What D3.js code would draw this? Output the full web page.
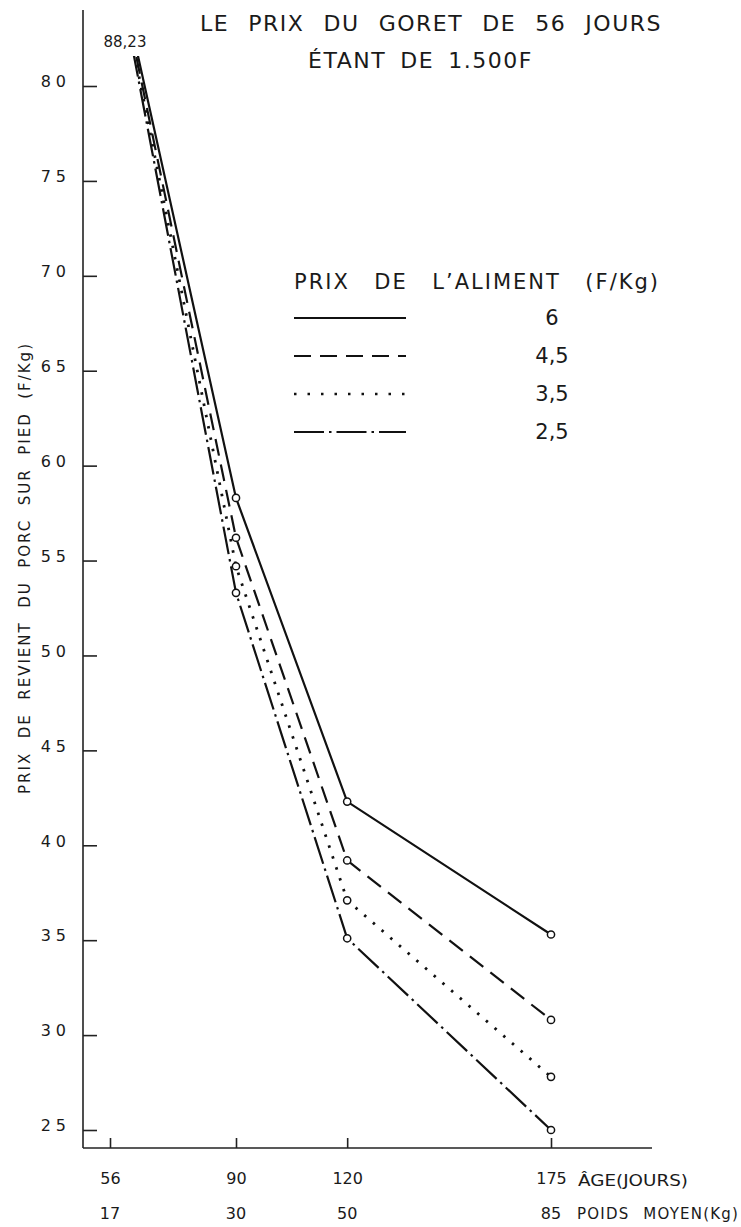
<!DOCTYPE html>
<html>
<head>
<meta charset="utf-8">
<script src="https://cdn.jsdelivr.net/npm/d3@7"></script>
<style>
  body { margin: 0; background: #fff; }
  text { font-family: "DejaVu Sans", sans-serif; fill: #1a1a1a; }
</style>
</head>
<body>
<div id="chart"></div>
<script>
// age of the pig (days) and average weight (kg)
var ages = [56, 90, 120, 175];
var poids = [17, 30, 50, 85];
var yTicks = [25, 30, 35, 40, 45, 50, 55, 60, 65, 70, 75, 80];

// feed price (F/Kg) and cost price of the pig (F/Kg)
var feedPrices = ["6", "4,5", "3,5", "2,5"];
var cost6  = [88.23, 58.3, 42.3, 35.3];
var cost45 = [88.23, 56.2, 39.2, 30.8];
var cost35 = [88.23, 54.7, 37.1, 27.8];
var cost25 = [88.23, 53.3, 35.1, 25.0];

var series = [cost6, cost45, cost35, cost25];
var dashes = [null, "17,9", "2.5,9", "28,5,2.5,5"];
var legendDashes = [null, "17,9", "2.5,11", "30,5,2.5,5"];

var width = 741,
    height = 1227,
    axisX = 83,
    axisY = 1148;

var x = d3.scaleLinear().domain([56, 175]).range([110, 551]);
var y = d3.scaleLinear().domain([25, 80]).range([1130, 86]);

var svg = d3.select("#chart").append("svg")
    .attr("width", width)
    .attr("height", height);

// stretch the gaps between words so a text covers a given length
function fitWords(t, target, ls) {
  t.style("letter-spacing", (ls || 0) + "px");
  var n = t.text().split(" ").length - 1;
  var w = t.node().getComputedTextLength();
  if (n > 0) t.style("word-spacing", Math.max(0, (target - w) / n) + "px");
  return t;
}

svg.append("defs").append("clipPath")
    .attr("id", "clip")
  .append("rect")
    .attr("x", axisX)
    .attr("y", 56)
    .attr("width", width)
    .attr("height", axisY - 56);

// axes lines
svg.append("line")
    .attr("x1", axisX).attr("x2", axisX)
    .attr("y1", 10).attr("y2", axisY)
    .style("stroke", "#222").style("stroke-width", 1.6);
svg.append("line")
    .attr("x1", axisX).attr("x2", 652)
    .attr("y1", axisY).attr("y2", axisY)
    .style("stroke", "#222").style("stroke-width", 1.6);

// y axis
var yAxis = svg.append("g")
    .attr("transform", "translate(" + axisX + ",0)")
    .call(d3.axisLeft(y).tickValues(yTicks).tickSizeInner(-14).tickSizeOuter(0).tickPadding(12));
yAxis.select(".domain").remove();
yAxis.selectAll(".tick line").style("stroke", "#222").style("stroke-width", 1.6);
yAxis.selectAll(".tick text")
    .attr("dy", "0.05em")
    .style("font-size", "16px")
    .style("letter-spacing", "5px")
    .style("font-family", "DejaVu Sans")
    .style("fill", "#1a1a1a");

// x axis
var xAxis = svg.append("g")
    .attr("transform", "translate(0," + axisY + ")")
    .call(d3.axisBottom(x).tickValues(ages).tickSizeInner(-10).tickSizeOuter(0).tickPadding(25));
xAxis.select(".domain").remove();
xAxis.selectAll(".tick line").style("stroke", "#222").style("stroke-width", 1.6);
xAxis.selectAll(".tick text")
    .style("font-size", "16px")
    .style("font-family", "DejaVu Sans")
    .style("fill", "#1a1a1a");

svg.selectAll(".poids")
    .data(poids)
  .enter().append("text")
    .attr("class", "poids")
    .attr("x", function(d, i) { return x(ages[i]); })
    .attr("y", 1219)
    .attr("text-anchor", "middle")
    .style("font-size", "16px")
    .text(function(d) { return d; });

svg.append("text")
    .attr("x", 578).attr("y", 1186)
    .attr("textLength", 110).attr("lengthAdjust", "spacingAndGlyphs")
    .style("font-size", "15px")
    .text("ÂGE(JOURS)");
fitWords(svg.append("text")
    .attr("x", 577).attr("y", 1219)
    .style("font-size", "15px")
    .text("POIDS MOYEN(Kg)"), 162, 1.2);

// y label
fitWords(svg.append("text")
    .attr("transform", "translate(30,568) rotate(-90)")
    .attr("text-anchor", "middle")
    .style("font-size", "15px")
    .text("PRIX DE REVIENT DU PORC SUR PIED (F/Kg)"), 452, 2);

// lines
var line = d3.line()
    .x(function(d, i) { return x(ages[i]); })
    .y(function(d) { return y(d); });

var g = svg.append("g").attr("clip-path", "url(#clip)");
g.selectAll(".serie")
    .data(series)
  .enter().append("path")
    .attr("class", "serie")
    .attr("d", line)
    .style("fill", "none")
    .style("stroke", "#111")
    .style("stroke-width", function(d, i) { return i == 2 ? 2.8 : 2.2; })
    .style("stroke-dasharray", function(d, i) { return dashes[i]; });

series.forEach(function(s) {
  svg.selectAll(null)
      .data(s.slice(1))
    .enter().append("circle")
      .attr("cx", function(d, i) { return x(ages[i + 1]); })
      .attr("cy", function(d) { return y(d); })
      .attr("r", 3.6)
      .style("fill", "#fff")
      .style("stroke", "#111")
      .style("stroke-width", 1.5);
});

svg.append("text")
    .attr("x", 125).attr("y", 47)
    .attr("text-anchor", "middle")
    .style("font-size", "15px")
    .text(cost6[0].toString().replace(".", ","));

// title
fitWords(svg.append("text")
    .attr("x", 200).attr("y", 31)
    .style("font-size", "22px")
    .text("LE PRIX DU GORET DE 56 JOURS"), 462, 1.5);
fitWords(svg.append("text")
    .attr("x", 308).attr("y", 68)
    .style("font-size", "22px")
    .text("ÉTANT DE 1.500F"), 225, 1.5);

// legend
fitWords(svg.append("text")
    .attr("x", 294).attr("y", 289)
    .style("font-size", "21px")
    .text("PRIX DE L’ALIMENT (F/Kg)"), 366, 2);

var legend = svg.selectAll(".legend")
    .data(feedPrices)
  .enter().append("g")
    .attr("class", "legend")
    .attr("transform", function(d, i) { return "translate(0," + (318 + i * 38) + ")"; });

legend.append("line")
    .attr("x1", 294).attr("x2", 406)
    .style("stroke", "#111")
    .style("stroke-width", function(d, i) { return i == 2 ? 2.6 : 2; })
    .style("stroke-dasharray", function(d, i) { return legendDashes[i]; });

legend.append("text")
    .attr("x", 552)
    .attr("y", 7)
    .attr("text-anchor", "middle")
    .style("font-size", "21px")
    .text(function(d) { return d; });
</script>
</body>
</html>
